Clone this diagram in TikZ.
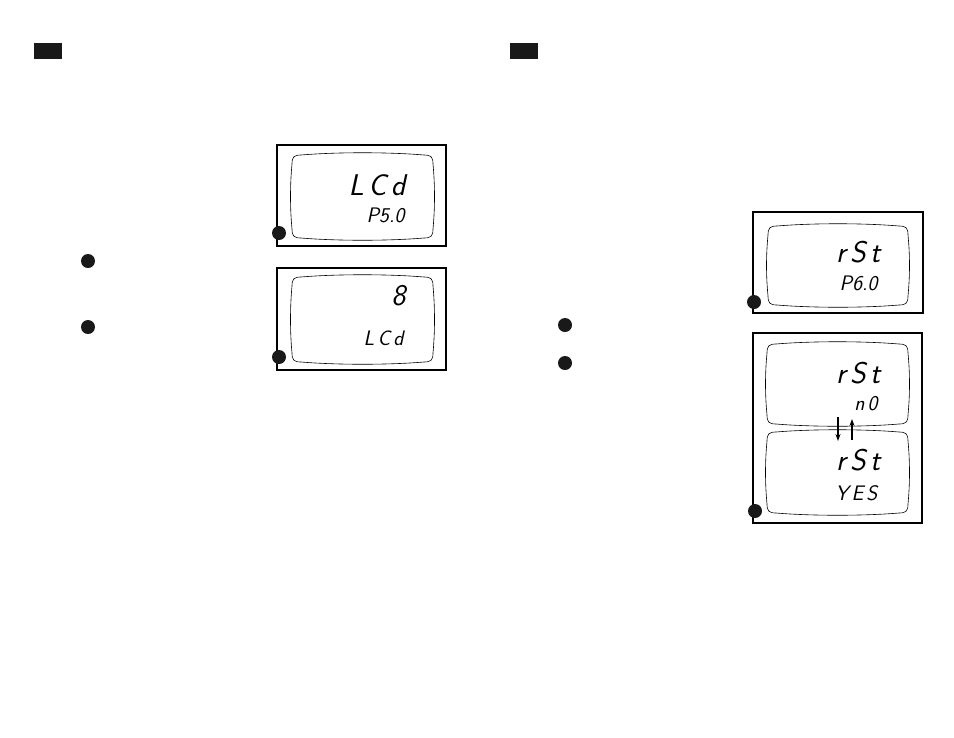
\documentclass[tikz,border=0pt]{standalone}
\usetikzlibrary{arrows.meta}

\tikzset{
  panel/.style={line width=1.8pt},
  window/.style={line width=0.6pt},
  marker/.style={circle, fill=black!90, inner sep=0pt, minimum size=14pt},
  tag/.style={fill=black!90, inner sep=0pt, minimum width=28pt, minimum height=16pt},
  bigseg/.style={anchor=base east, font=\fontsize{30}{30}\selectfont\sffamily\itshape},
  smallseg/.style={anchor=base east, font=\fontsize{21}{21}\selectfont\sffamily\itshape},
}

% gap between display characters
\newcommand{\segsp}{\hspace{0.15em}}

% LCD window: x1, y1, x2, y2 (pixels, y downwards)
\newcommand{\lcdwin}[4]{%
  \draw[window] (#1+9,#2) .. controls (#1+45,#2-3) and (#3-45,#2-3) .. (#3-9,#2)
    .. controls (#3-2,#2) and (#3,#2+2) .. (#3,#2+9)
    .. controls (#3+2,#2+30) and (#3+2,#4-30) .. (#3,#4-9)
    .. controls (#3,#4-2) and (#3-2,#4) .. (#3-9,#4)
    .. controls (#3-45,#4+3) and (#1+45,#4+3) .. (#1+9,#4)
    .. controls (#1+2,#4) and (#1,#4-2) .. (#1,#4-9)
    .. controls (#1-2,#4-30) and (#1-2,#2+30) .. (#1,#2+9)
    .. controls (#1,#2+2) and (#1+2,#2) .. cycle;}

\begin{document}
\begin{tikzpicture}[x=1pt, y=-1pt]
  \useasboundingbox (0,0) rectangle (954,737);

  % Header tags
  \node[tag] (tagL) at (48,51) {};
  \node[tag] (tagR) at (524,51) {};

  % Left column bullets
  \node[marker] (dotLa) at (88,261) {};
  \node[marker] (dotLb) at (88,327) {};

  % Right column bullets
  \node[marker] (dotRa) at (565,325) {};
  \node[marker] (dotRb) at (565,363) {};

  % Display: LCd / P5.0
  \draw[panel] (277,145) rectangle (446,246);
  \lcdwin{292}{155}{433}{238}
  \node[bigseg] (lcdA) at (409,195) {L\segsp C\segsp d};
  \node[smallseg] (psA) at (408,222) {P5.0};
  \node[marker] (keyA) at (279,233) {};

  % Display: 8 / LCd
  \draw[panel] (277,268) rectangle (446,370);
  \lcdwin{292}{277}{433}{362}
  \node[bigseg] (digA) at (409,305) {8};
  \node[smallseg] (lcdB) at (407,345) {L\segsp C\segsp d};
  \node[marker] (keyB) at (279,357) {};

  % Display: rSt / P6.0
  \draw[panel] (753,212) rectangle (923,313);
  \lcdwin{768}{226}{908}{305}
  \node[bigseg] (rstA) at (884,262) {r\segsp S\segsp t};
  \node[smallseg] (psB) at (881,290) {P6.0};
  \node[marker] (keyC) at (754,302) {};

  % Display: rSt no <-> yes
  \draw[panel] (753,333) rectangle (922,523);
  \lcdwin{767}{344}{908}{424}
  \lcdwin{767}{432}{908}{513}
  \node[bigseg] (rstB) at (884,383) {r\segsp S\segsp t};
  \node[smallseg] (noA) at (881,410) {n\segsp 0};
  \node[bigseg] (rstC) at (884,470) {r\segsp S\segsp t};
  \node[smallseg] (yesA) at (881,500) {Y\segsp E\segsp S};
  \node[marker] (keyD) at (755,511) {};

  % Toggle arrows
  \coordinate (dnTop) at (838,417);
  \coordinate (dnEnd) at (838,441);
  \coordinate (upTop) at (852,419);
  \coordinate (upEnd) at (852,440);
  \draw[line width=2.4pt, -{Stealth[length=7pt, width=5pt]}] (dnTop) -- (dnEnd);
  \draw[line width=1.2pt, -{Stealth[length=7pt, width=5pt]}] (upEnd) -- (upTop);
\end{tikzpicture}
\end{document}
